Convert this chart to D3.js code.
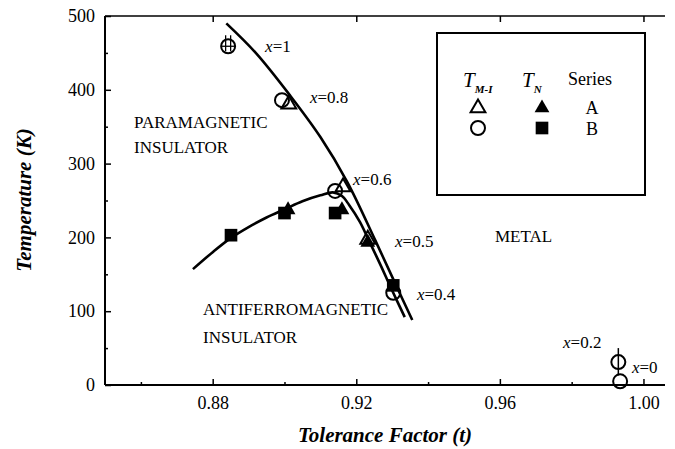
<!DOCTYPE html>
<html>
<head>
<meta charset="utf-8">
<script src="https://cdn.jsdelivr.net/npm/d3@7"></script>
<style>
  body { margin: 0; background: #fff; }
  text { font-family: "Liberation Serif", "Times New Roman", serif; fill: #000; }
</style>
</head>
<body>
<svg id="chart" width="675" height="449"></svg>
<script>
// data
const xTicks = [0.88, 0.92, 0.96, 1.00];
const xMinor = [0.86, 0.90, 0.94, 0.98];
const yTicks = [0, 100, 200, 300, 400, 500];
const yMinor = [50, 150, 250, 350, 450];

// open triangles: T(M-I), series A
const tmiA = [{t: 0.9012, T: 383}, {t: 0.9163, T: 271}, {t: 0.9232, T: 200}];
// filled triangles: T(N), series A
const tnA = [{t: 0.9010, T: 240}, {t: 0.9160, T: 240}, {t: 0.9232, T: 196}];
// open circles: T(M-I), series B
const tmiB = [{t: 0.8843, T: 459}, {t: 0.8993, T: 386}, {t: 0.9141, T: 263},
              {t: 0.9303, T: 125}, {t: 0.9930, T: 31}, {t: 0.9935, T: 5}];
// filled squares: T(N), series B
const tnB = [{t: 0.8851, T: 203}, {t: 0.9000, T: 233}, {t: 0.9141, T: 233}, {t: 0.9303, T: 135}];

// metal-insulator boundary
const mitCurve = [[0.8838, 490], [0.892, 450], [0.9016, 392], [0.910, 336], [0.9175, 275],
                  [0.9253, 196], [0.931, 136], [0.9356, 88]];
// Neel dome
const neelCurve = [[0.8745, 157], [0.880, 180], [0.885, 199], [0.890, 214], [0.895, 227],
                   [0.900, 238], [0.905, 249], [0.910, 257], [0.9135, 261], [0.916, 256],
                   [0.918, 244], [0.921, 221], [0.9233, 198], [0.927, 160], [0.930, 128],
                   [0.9335, 92]];

const compLabels = [
  {v: "1", t: 0.8946, T: 451}, {v: "0.8", t: 0.9071, T: 382}, {v: "0.6", t: 0.9191, T: 271},
  {v: "0.5", t: 0.9308, T: 187}, {v: "0.4", t: 0.9369, T: 115}, {v: "0.2", t: 0.9776, T: 50},
  {v: "0", t: 0.9968, T: 16}
];

const svg = d3.select("#chart");
const x = d3.scaleLinear().domain([0.85, 1.006]).range([105, 665]);
const y = d3.scaleLinear().domain([0, 500]).range([385, 16]);

// frame
svg.append("line").attr("x1", 105).attr("x2", 105).attr("y1", 16).attr("y2", 385)
  .attr("stroke", "#000").attr("stroke-width", 2);
svg.append("line").attr("x1", 105).attr("x2", 665).attr("y1", 385).attr("y2", 385)
  .attr("stroke", "#000").attr("stroke-width", 2);
svg.append("line").attr("x1", 105).attr("x2", 665).attr("y1", 16).attr("y2", 16)
  .attr("stroke", "#000").attr("stroke-width", 1.5);

// axes (ticks inside)
const xAxis = svg.append("g").attr("transform", "translate(0,385)")
  .call(d3.axisBottom(x).tickValues(xTicks).tickFormat(d3.format(".2f")).tickSize(-6).tickPadding(11));
xAxis.select(".domain").remove();
xAxis.selectAll("text").attr("font-size", 18).style("font-family", "Liberation Serif");
svg.append("g").attr("transform", "translate(0,385)")
  .call(d3.axisBottom(x).tickValues(xMinor).tickFormat("").tickSize(-3))
  .select(".domain").remove();
svg.append("g").attr("transform", "translate(0,16)")
  .call(d3.axisTop(x).tickValues(xTicks).tickFormat("").tickSize(-6))
  .select(".domain").remove();

const yAxis = svg.append("g").attr("transform", "translate(105,0)")
  .call(d3.axisLeft(y).tickValues(yTicks).tickSize(-6).tickPadding(10));
yAxis.select(".domain").remove();
yAxis.selectAll("text").attr("font-size", 18).style("font-family", "Liberation Serif");
svg.append("g").attr("transform", "translate(105,0)")
  .call(d3.axisLeft(y).tickValues(yMinor).tickFormat("").tickSize(-3))
  .select(".domain").remove();
svg.selectAll(".tick line").attr("stroke-width", 1.5);

// axis titles
svg.append("text").attr("x", 385).attr("y", 442).attr("text-anchor", "middle")
  .attr("font-size", 21).attr("font-style", "italic").attr("font-weight", "bold")
  .text("Tolerance Factor (t)");
svg.append("text").attr("transform", "translate(31,200) rotate(-90)").attr("text-anchor", "middle")
  .attr("font-size", 21).attr("font-style", "italic").attr("font-weight", "bold")
  .text("Temperature (K)");

// curves
const line = d3.line().x(d => x(d[0])).y(d => y(d[1])).curve(d3.curveCatmullRom);
[mitCurve, neelCurve].forEach(c => {
  svg.append("path").attr("d", line(c)).attr("fill", "none")
    .attr("stroke", "#000").attr("stroke-width", 2.6);
});

// markers
const tri = d3.symbol().type(d3.symbolTriangle).size(95);
const sq = d3.symbol().type(d3.symbolSquare).size(160);

svg.selectAll(".tmiB").data(tmiB).enter().append("circle")
  .attr("cx", d => x(d.t)).attr("cy", d => y(d.T)).attr("r", 7)
  .attr("fill", "none").attr("stroke", "#000").attr("stroke-width", 2);
svg.selectAll(".tnB").data(tnB).enter().append("path")
  .attr("d", sq).attr("transform", d => `translate(${x(d.t)},${y(d.T)})`).attr("fill", "#000");
svg.selectAll(".tnA").data(tnA).enter().append("path")
  .attr("d", tri).attr("transform", d => `translate(${x(d.t)},${y(d.T) + 2})`).attr("fill", "#000");
svg.selectAll(".tmiA").data(tmiA).enter().append("path")
  .attr("d", tri).attr("transform", d => `translate(${x(d.t)},${y(d.T) + 2})`)
  .attr("fill", "none").attr("stroke", "#000").attr("stroke-width", 2);

// hatch on x=1 point and error bar on x=0.2
const p1 = tmiB[0];
[-2.5, 2.5].forEach(dx => {
  svg.append("line").attr("x1", x(p1.t) + dx).attr("x2", x(p1.t) + dx)
    .attr("y1", y(p1.T) - 11).attr("y2", y(p1.T) + 5).attr("stroke", "#000").attr("stroke-width", 1.3);
});
svg.append("line").attr("x1", x(p1.t) - 7).attr("x2", x(p1.t) + 7)
  .attr("y1", y(p1.T)).attr("y2", y(p1.T)).attr("stroke", "#000").attr("stroke-width", 1.3);
const p2 = tmiB[4];
svg.append("line").attr("x1", x(p2.t)).attr("x2", x(p2.t))
  .attr("y1", y(50)).attr("y2", y(13)).attr("stroke", "#000").attr("stroke-width", 1.5);

// composition labels
compLabels.forEach(d => {
  const tx = svg.append("text").attr("x", x(d.t)).attr("y", y(d.T)).attr("font-size", 17);
  tx.append("tspan").attr("font-style", "italic").text("x");
  tx.append("tspan").text("=" + d.v);
});

// region labels
const regions = [
  {lines: ["PARAMAGNETIC", "INSULATOR"], px: 134, py: 128, gap: 25},
  {lines: ["ANTIFERROMAGNETIC", "INSULATOR"], px: 203, py: 315, gap: 28},
  {lines: ["METAL"], px: 495, py: 242, gap: 0}
];
regions.forEach(r => {
  r.lines.forEach((s, i) => {
    svg.append("text").attr("x", r.px).attr("y", r.py + i * r.gap)
      .attr("font-size", 17).text(s);
  });
});

// legend
const lg = svg.append("g");
lg.append("rect").attr("x", 437).attr("y", 33).attr("width", 208).attr("height", 162)
  .attr("fill", "#fff").attr("stroke", "#000").attr("stroke-width", 2);
const h1 = lg.append("text").attr("x", 463).attr("y", 87).attr("font-size", 21).attr("font-style", "italic");
h1.append("tspan").text("T");
h1.append("tspan").attr("dy", 6).attr("font-size", 11).attr("font-weight", "bold").text("M-I");
const h2 = lg.append("text").attr("x", 522).attr("y", 87).attr("font-size", 21).attr("font-style", "italic");
h2.append("tspan").text("T");
h2.append("tspan").attr("dy", 6).attr("font-size", 11).attr("font-weight", "bold").text("N");
lg.append("text").attr("x", 568).attr("y", 85).attr("font-size", 18).text("Series");
lg.append("path").attr("d", tri).attr("transform", "translate(478,108)")
  .attr("fill", "none").attr("stroke", "#000").attr("stroke-width", 2);
lg.append("path").attr("d", tri).attr("transform", "translate(542,108)").attr("fill", "#000");
lg.append("text").attr("x", 592).attr("y", 114).attr("text-anchor", "middle").attr("font-size", 18).text("A");
lg.append("circle").attr("cx", 478).attr("cy", 128).attr("r", 7)
  .attr("fill", "none").attr("stroke", "#000").attr("stroke-width", 2);
lg.append("path").attr("d", sq).attr("transform", "translate(542,128)").attr("fill", "#000");
lg.append("text").attr("x", 592).attr("y", 135).attr("text-anchor", "middle").attr("font-size", 18).text("B");
</script>
</body>
</html>
